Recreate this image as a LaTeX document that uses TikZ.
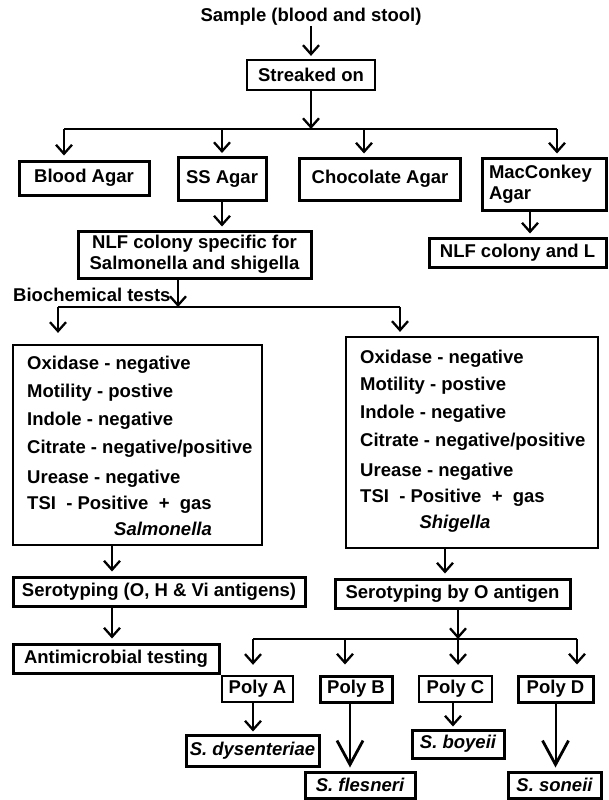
\documentclass[tikz,border=0pt]{standalone}
\usepackage{fontspec}
\setmainfont{Liberation Sans}
\usetikzlibrary{arrows.meta}
\tikzset{
 fnt/.style={font=\bfseries\fontsize{18.5}{21}\selectfont},
 ifnt/.style={font=\bfseries\itshape\fontsize{18.5}{21}\selectfont},
 box/.style={draw, line width=3pt, inner sep=0pt, fnt, align=center},
 thinbox/.style={box, line width=2.2pt},
 ibox/.style={box, ifnt},
 arr/.style={line width=1.5pt, -{Straight Barb[length=9pt,width=16pt,line width=2.3pt]}},
 bigarr/.style={line width=2pt, -{Straight Barb[length=24pt,width=26pt,line width=2.8pt]}},
 busline/.style={line width=2pt},
 txtline/.style={anchor=west, inner sep=0pt, text height=12pt, text depth=3pt, fnt},
 itxt/.style={inner sep=0pt, text height=12pt, text depth=3pt, ifnt},
}
\begin{document}
\begin{tikzpicture}[x=1pt,y=-1pt]
\useasboundingbox (0,0) rectangle (609,800);
\fill[white] (0,0) rectangle (609,800);

% top
\node[fnt, inner sep=0pt] (sample) at (311,17) {Sample (blood and stool)};
\node[thinbox, minimum width=128pt, minimum height=30pt] (streak) at (311,75) {Streaked on};
\draw[arr, shorten >=3pt] (sample) -- (streak);

\coordinate (b1) at (311,129);
\coordinate (b1a) at (64,129);
\coordinate (b1b) at (222,129);
\coordinate (b1c) at (364,129);
\coordinate (b1d) at (557,129);
\draw[arr] (streak) -- (b1);
\draw[busline] (b1a) -- (b1d);

% agar row
\node[box, minimum width=130pt, minimum height=34pt] (blood) at (84,178) {Blood Agar};
\node[box, minimum width=88pt, minimum height=43pt] (ss) at (222,179) {SS Agar};
\node[box, minimum width=161pt, minimum height=42pt] (choc) at (380,179) {Chocolate Agar};
\node[box, minimum width=124pt, minimum height=52pt, align=left, text width=110pt] (mac) at (544,184) {MacConkey\\Agar};

\draw[arr, shorten >=4pt] (b1a) -- (b1a |- blood.north);
\draw[arr, shorten >=3pt] (b1b) -- (b1b |- ss.north);
\draw[arr, shorten >=3pt] (b1c) -- (b1c |- choc.north);
\draw[arr, shorten >=3pt] (b1d) -- (b1d |- mac.north);

% second row
\node[box, minimum width=233pt, minimum height=47pt] (nlf) at (194.5,254.5) {NLF colony specific for\\Salmonella and shigella};
\node[box, minimum width=177pt, minimum height=29pt] (nlfl) at (517.5,252.5) {NLF colony and L};
\draw[arr, shorten >=3pt] (ss.south) -- (ss.south |- nlf.north);
\draw[arr, shorten >=3pt] ([xshift=-14pt]mac.south) -- ([xshift=-14pt]mac.south |- nlfl.north);

\node[fnt, inner sep=0pt, anchor=west] (bio) at (13,295) {Biochemical tests};
\coordinate (b2) at (178,307);
\coordinate (b2a) at (58,307);
\coordinate (b2b) at (400,307);
\draw[arr] ([xshift=-16.5pt]nlf.south) -- (b2);
\draw[busline] (b2a) -- (b2b);

% big boxes
\node[draw, line width=2.2pt, minimum width=249pt, minimum height=200pt, inner sep=0pt] (salbox) at (137.5,445) {};
\node[draw, line width=2.2pt, minimum width=252pt, minimum height=211pt, inner sep=0pt] (shibox) at (472,442.5) {};
\draw[arr, shorten >=11pt] (b2a) -- (b2a |- salbox.north);
\draw[arr, shorten >=4pt] (b2b) -- (b2b |- shibox.north);

\node[txtline] (s1) at (27,365) {Oxidase - negative};
\node[txtline] (s2) at (27,393) {Motility - postive};
\node[txtline] (s3) at (27,421) {Indole - negative};
\node[txtline] (s4) at (27,449) {Citrate - negative/positive};
\node[txtline] (s5) at (27,479) {Urease - negative};
\node[txtline] (s6) at (27,505) {TSI\ \ - Positive\ \ +\ \ gas};
\node[itxt] (s7) at (163,531) {Salmonella};

\node[txtline] (g1) at (360,359) {Oxidase - negative};
\node[txtline] (g2) at (360,386) {Motility - postive};
\node[txtline] (g3) at (360,414) {Indole - negative};
\node[txtline] (g4) at (360,442) {Citrate - negative/positive};
\node[txtline] (g5) at (360,472) {Urease - negative};
\node[txtline] (g6) at (360,498) {TSI\ \ - Positive\ \ +\ \ gas};
\node[itxt] (g7) at (455,524) {Shigella};

% serotyping
\node[box, minimum width=292pt, minimum height=29pt] (serA) at (159,591.5) {Serotyping (O, H \& Vi antigens)};
\node[box, minimum width=206pt, minimum height=29pt] (anti) at (116,658.5) {Antimicrobial testing};
\node[box, minimum width=235pt, minimum height=29pt] (serB) at (452.5,593.5) {Serotyping by O antigen};

\draw[arr, shorten >=4pt] ([xshift=-25.5pt]salbox.south) -- ([xshift=-25.5pt]salbox.south |- serA.north);
\draw[arr, shorten >=4pt] ([xshift=-47pt]serA.south) -- ([xshift=-47pt]serA.south |- anti.north);
\draw[arr, shorten >=4pt] ([xshift=-27pt]shibox.south) -- ([xshift=-27pt]shibox.south |- serB.north);

\coordinate (b3) at (458,639);
\coordinate (b3a) at (253,639);
\coordinate (b3b) at (345,639);
\coordinate (b3d) at (577,639);
\draw[arr] ([xshift=5.5pt]serB.south) -- (b3);
\draw[busline] (b3a) -- (b3d);

% poly
\node[box, line width=2.4pt, minimum width=71pt, minimum height=26pt] (pa) at (257.5,689) {Poly A};
\node[box, minimum width=72pt, minimum height=26pt] (pb) at (356,689) {Poly B};
\node[box, line width=2.4pt, minimum width=73pt, minimum height=26pt] (pc) at (455.5,689) {Poly C};
\node[box, minimum width=75pt, minimum height=26pt] (pd) at (555.5,689) {Poly D};

\draw[arr, shorten >=10pt] (b3a) -- (b3a |- pa.north);
\draw[arr, shorten >=10pt] (b3b) -- (b3b |- pb.north);
\draw[arr, shorten >=10pt] (b3) -- (b3 |- pc.north);
\draw[arr, shorten >=10pt] (b3d) -- (b3d |- pd.north);

\node[ibox, minimum width=133pt, minimum height=31pt] (dys) at (252.5,750.5) {S. dysenteriae};
\node[ibox, minimum width=110pt, minimum height=26pt] (fles) at (360,785) {S. flesneri};
\node[ibox, minimum width=92pt, minimum height=28pt] (boy) at (458,744) {S. boyeii};
\node[ibox, minimum width=93pt, minimum height=26pt] (son) at (554.5,785) {S. soneii};

\draw[arr, shorten >=2pt] ([xshift=-4.5pt]pa.south) -- ([xshift=-4.5pt]pa.south |- dys.north);
\draw[bigarr, shorten >=3pt] ([xshift=-6pt]pb.south) -- ([xshift=-6pt]pb.south |- fles.north);
\draw[arr, shorten >=2pt] ([xshift=-2.5pt]pc.south) -- ([xshift=-2.5pt]pc.south |- boy.north);
\draw[bigarr, shorten >=3pt] (pd.south) -- (pd.south |- son.north);
\end{tikzpicture}
\end{document}
